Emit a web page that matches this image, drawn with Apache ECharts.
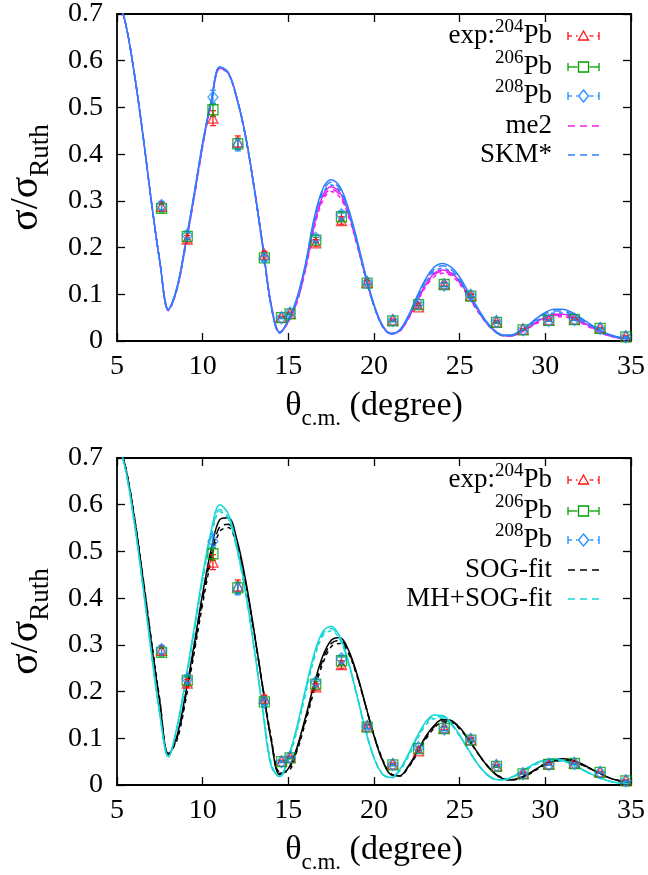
<!DOCTYPE html>
<html>
<head>
<meta charset="utf-8">
<script src="https://cdn.jsdelivr.net/npm/echarts@6/dist/echarts.min.js"></script>
<style>
  html, body { margin: 0; padding: 0; background: #fff; }
  #chart { width: 648px; height: 875px; }
</style>
</head>
<body>
<div id="chart"></div>
<script>
// Scattering angle grid (degrees) used by all calculated curves
const angles = [5,5.5,6,6.5,7,7.5,8,8.5,9,9.5,10,10.5,11,11.5,12,12.5,13,13.5,14,14.5,15,15.5,16,16.5,17,17.5,18,18.5,19,19.5,20,20.5,21,21.5,22,22.5,23,23.5,24,24.5,25,25.5,26,26.5,27,27.5,28,28.5,29,29.5,30,30.5,31,31.5,32,32.5,33,33.5,34,34.5,35];

// Upper panel: SKM* calculations (three isotopes)
const skmA = [0.74,0.68,0.575,0.445,0.30,0.17,0.068,0.115,0.21,0.315,0.425,0.515,0.587,0.574,0.52,0.44,0.33,0.205,0.075,0.018,0.045,0.092,0.165,0.262,0.325,0.345,0.331,0.285,0.218,0.143,0.078,0.033,0.016,0.024,0.054,0.095,0.132,0.158,0.166,0.158,0.137,0.105,0.074,0.045,0.024,0.013,0.013,0.021,0.034,0.049,0.061,0.068,0.068,0.062,0.051,0.039,0.027,0.017,0.011,0.007,0.005];
const skmB = [0.74,0.68,0.575,0.445,0.30,0.17,0.067,0.113,0.208,0.313,0.423,0.514,0.587,0.574,0.519,0.438,0.328,0.203,0.074,0.017,0.045,0.09,0.163,0.258,0.32,0.34,0.326,0.281,0.214,0.14,0.076,0.032,0.015,0.023,0.052,0.092,0.128,0.153,0.161,0.153,0.132,0.101,0.071,0.043,0.023,0.012,0.012,0.02,0.032,0.046,0.058,0.064,0.064,0.058,0.048,0.037,0.025,0.016,0.01,0.006,0.004];
const skmC = [0.74,0.68,0.575,0.445,0.30,0.17,0.066,0.112,0.206,0.311,0.421,0.513,0.586,0.573,0.517,0.436,0.326,0.201,0.073,0.017,0.044,0.089,0.16,0.254,0.315,0.334,0.32,0.276,0.21,0.137,0.074,0.031,0.015,0.022,0.05,0.089,0.124,0.148,0.156,0.148,0.128,0.098,0.069,0.041,0.022,0.012,0.011,0.019,0.03,0.043,0.054,0.06,0.06,0.055,0.045,0.035,0.024,0.015,0.009,0.006,0.004];

// Upper panel: me2 calculations (three isotopes)
const me2A = [0.74,0.68,0.575,0.445,0.30,0.17,0.067,0.112,0.206,0.31,0.42,0.512,0.584,0.574,0.52,0.44,0.331,0.207,0.078,0.019,0.042,0.086,0.157,0.248,0.31,0.33,0.318,0.276,0.212,0.14,0.077,0.033,0.016,0.022,0.049,0.086,0.12,0.144,0.152,0.146,0.128,0.099,0.07,0.043,0.023,0.012,0.011,0.018,0.029,0.041,0.051,0.057,0.057,0.053,0.044,0.034,0.024,0.015,0.009,0.006,0.004];
const me2B = [0.74,0.68,0.575,0.445,0.30,0.17,0.066,0.111,0.204,0.308,0.418,0.511,0.584,0.573,0.519,0.439,0.33,0.206,0.077,0.019,0.041,0.084,0.154,0.244,0.305,0.325,0.313,0.272,0.209,0.138,0.076,0.032,0.016,0.021,0.048,0.084,0.118,0.141,0.149,0.143,0.125,0.097,0.068,0.042,0.022,0.012,0.011,0.018,0.028,0.04,0.049,0.055,0.055,0.051,0.042,0.033,0.023,0.014,0.009,0.005,0.004];
const me2C = [0.74,0.68,0.575,0.445,0.30,0.17,0.065,0.11,0.202,0.306,0.416,0.51,0.583,0.572,0.518,0.438,0.329,0.205,0.076,0.018,0.04,0.082,0.151,0.24,0.3,0.32,0.308,0.268,0.206,0.136,0.075,0.031,0.015,0.021,0.047,0.082,0.115,0.137,0.145,0.14,0.122,0.095,0.066,0.041,0.022,0.011,0.01,0.017,0.027,0.038,0.047,0.052,0.052,0.048,0.04,0.031,0.022,0.014,0.008,0.005,0.003];

// Lower panel: SOG-fit densities
const sogA = [0.74,0.68,0.575,0.445,0.305,0.175,0.065,0.105,0.195,0.3,0.41,0.505,0.568,0.572,0.525,0.44,0.33,0.21,0.095,0.022,0.035,0.08,0.145,0.215,0.275,0.31,0.316,0.29,0.238,0.172,0.105,0.052,0.022,0.02,0.04,0.07,0.103,0.127,0.14,0.138,0.123,0.099,0.072,0.046,0.026,0.014,0.011,0.015,0.024,0.035,0.046,0.053,0.056,0.054,0.047,0.038,0.028,0.019,0.012,0.008,0.005];
const sogB = [0.74,0.68,0.576,0.447,0.308,0.178,0.066,0.1,0.188,0.29,0.398,0.492,0.553,0.558,0.514,0.433,0.327,0.21,0.098,0.025,0.033,0.076,0.14,0.208,0.267,0.303,0.31,0.286,0.236,0.171,0.106,0.053,0.023,0.02,0.039,0.068,0.1,0.124,0.137,0.136,0.121,0.098,0.071,0.046,0.026,0.014,0.011,0.014,0.023,0.034,0.044,0.051,0.054,0.052,0.046,0.037,0.028,0.019,0.012,0.008,0.005];
const sogC = [0.74,0.681,0.578,0.45,0.312,0.182,0.068,0.096,0.18,0.282,0.388,0.482,0.543,0.551,0.51,0.432,0.328,0.213,0.102,0.028,0.03,0.072,0.134,0.201,0.259,0.296,0.303,0.282,0.234,0.171,0.107,0.055,0.024,0.019,0.037,0.066,0.097,0.121,0.134,0.134,0.12,0.098,0.071,0.046,0.027,0.015,0.011,0.014,0.022,0.033,0.043,0.05,0.052,0.051,0.045,0.037,0.028,0.019,0.012,0.008,0.005];

// Lower panel: MH+SOG-fit densities
const mhA = [0.74,0.675,0.565,0.43,0.285,0.15,0.06,0.125,0.225,0.335,0.45,0.545,0.6,0.58,0.51,0.415,0.295,0.16,0.04,0.018,0.06,0.125,0.205,0.28,0.328,0.34,0.318,0.265,0.193,0.118,0.058,0.023,0.016,0.033,0.066,0.103,0.134,0.15,0.149,0.133,0.107,0.077,0.048,0.026,0.013,0.011,0.016,0.026,0.038,0.048,0.054,0.056,0.053,0.046,0.037,0.027,0.018,0.011,0.006,0.004,0.003];
const mhB = [0.74,0.675,0.565,0.43,0.286,0.152,0.06,0.122,0.22,0.33,0.443,0.537,0.59,0.572,0.505,0.412,0.294,0.165,0.042,0.018,0.058,0.12,0.2,0.275,0.323,0.335,0.314,0.262,0.191,0.117,0.058,0.023,0.016,0.032,0.064,0.1,0.131,0.146,0.146,0.13,0.105,0.075,0.047,0.025,0.013,0.011,0.016,0.026,0.037,0.047,0.053,0.055,0.052,0.045,0.036,0.026,0.017,0.011,0.006,0.004,0.003];
const mhC = [0.74,0.675,0.566,0.432,0.288,0.155,0.061,0.12,0.216,0.325,0.437,0.53,0.585,0.57,0.506,0.414,0.297,0.17,0.047,0.017,0.054,0.115,0.194,0.269,0.318,0.33,0.312,0.262,0.193,0.12,0.06,0.024,0.015,0.03,0.06,0.096,0.127,0.142,0.143,0.129,0.105,0.076,0.048,0.026,0.013,0.011,0.015,0.024,0.035,0.045,0.051,0.053,0.051,0.045,0.036,0.026,0.018,0.011,0.006,0.004,0.003];

// Measured angular distributions
const thetaExp = [7.6,9.1,10.6,12.05,13.6,14.6,15.1,16.6,18.1,19.6,21.1,22.6,24.1,25.65,27.15,28.7,30.2,31.7,33.2,34.7];
const pb204 = [0.288,0.218,0.477,0.426,0.186,0.051,0.059,0.21,0.258,0.126,0.045,0.073,0.122,0.097,0.041,0.025,0.045,0.047,0.028,0.010];
const pb204Err = [0.009,0.008,0.016,0.013,0.006,0.002,0.002,0.007,0.008,0.004,0.002,0.003,0.004,0.003,0.002,0.001,0.002,0.002,0.001,0.001];
const pb206 = [0.284,0.224,0.495,0.422,0.178,0.05,0.058,0.216,0.266,0.124,0.043,0.078,0.121,0.096,0.04,0.024,0.044,0.046,0.027,0.009];
const pb206Err = [0.008,0.007,0.014,0.012,0.005,0.002,0.002,0.006,0.008,0.004,0.002,0.003,0.004,0.003,0.002,0.001,0.002,0.002,0.001,0.001];
const pb208 = [0.29,0.227,0.522,0.42,0.177,0.05,0.06,0.22,0.27,0.125,0.044,0.08,0.12,0.098,0.042,0.024,0.044,0.046,0.027,0.009];
const pb208Err = [0.009,0.008,0.015,0.013,0.006,0.002,0.002,0.007,0.008,0.004,0.002,0.003,0.004,0.003,0.002,0.001,0.002,0.002,0.001,0.001];

const FONT = '"Liberation Serif", "Times New Roman", serif';
const C = {
  red: '#ff1010', green: '#00a000', blue208: '#1e8cff',
  me2: '#f020f0', skm: '#2a80ff', sog: '#000000', mh: '#18d6d6'
};

const measureCtx = document.createElement('canvas').getContext('2d');
function textWidth(t, size) {
  measureCtx.font = size + 'px ' + FONT;
  return measureCtx.measureText(t).width;
}
// Lay out a run of text pieces (with super/subscripts) on a common baseline
function textRun(parts, anchorX, baseY, align) {
  const widths = parts.map(p => textWidth(p.t, p.size));
  const total = widths.reduce((a, b) => a + b, 0);
  let x = align === 'right' ? anchorX - total : (align === 'center' ? anchorX - total / 2 : anchorX);
  return parts.map((p, i) => {
    const el = {
      type: 'text', silent: true, x: x, y: baseY + (p.dy || 0) - 0.34 * p.size,
      style: { text: p.t, fontSize: p.size, fontFamily: FONT, fill: '#000', align: 'left', verticalAlign: 'middle' }
    };
    x += widths[i];
    return el;
  });
}

const grids = [
  { left: 117, right: 17, top: 14, height: 327, outerBoundsMode: 'none' },
  { left: 117, right: 17, top: 458, height: 327, outerBoundsMode: 'none' }
];

function axisCommon(showLabel) {
  return {
    axisLine: { show: true, onZero: false, lineStyle: { color: '#000', width: 1.8 } },
    axisTick: { show: true, inside: true, length: 8, lineStyle: { color: '#000', width: 1.3 } },
    axisLabel: { show: showLabel, fontSize: 28, fontFamily: FONT, color: '#000' },
    splitLine: { show: false }
  };
}
const xAxes = [], yAxes = [];
[0, 1].forEach(g => {
  ['bottom', 'top'].forEach(pos => {
    const a = Object.assign({ type: 'value', gridIndex: g, position: pos, min: 5, max: 35, interval: 5 }, axisCommon(pos === 'bottom'));
    a.axisLabel.margin = 12;
    xAxes.push(a);
  });
  ['left', 'right'].forEach(pos => {
    const a = Object.assign({ type: 'value', gridIndex: g, position: pos, min: 0, max: 0.7, interval: 0.1 }, axisCommon(pos === 'left'));
    a.axisLabel.margin = 14;
    yAxes.push(a);
  });
});

function curve(g, values, color, dash, dashOffset) {
  return {
    type: 'line', xAxisIndex: g * 2, yAxisIndex: g * 2,
    data: angles.map((a, i) => [a, values[i]]),
    showSymbol: false, smooth: 0.35, clip: true, silent: true,
    lineStyle: { color: color, width: 1.5, type: dash || 'solid', dashOffset: dashOffset || 0 },
    z: 2
  };
}
function errorBars(g, vals, errs, color) {
  return {
    type: 'custom', xAxisIndex: g * 2, yAxisIndex: g * 2, silent: true, z: 3,
    data: thetaExp.map((t, i) => [t, vals[i], errs[i]]),
    encode: { x: 0, y: 1 },
    renderItem: function (params, api) {
      const x = api.value(0), y = api.value(1), e = api.value(2);
      const lo = api.coord([x, y - e]), hi = api.coord([x, y + e]);
      const w = 3, st = { stroke: color, lineWidth: 1.2 };
      return { type: 'group', children: [
        { type: 'line', shape: { x1: lo[0], y1: lo[1], x2: hi[0], y2: hi[1] }, style: st },
        { type: 'line', shape: { x1: lo[0] - w, y1: lo[1], x2: lo[0] + w, y2: lo[1] }, style: st },
        { type: 'line', shape: { x1: hi[0] - w, y1: hi[1], x2: hi[0] + w, y2: hi[1] }, style: st }
      ] };
    }
  };
}
function points(g, vals, color, symbol, size) {
  return {
    type: 'scatter', xAxisIndex: g * 2, yAxisIndex: g * 2, silent: true, z: 4,
    data: thetaExp.map((t, i) => [t, vals[i]]),
    symbol: symbol, symbolSize: size,
    itemStyle: { color: 'rgba(0,0,0,0)', borderColor: color, borderWidth: 1.3 }
  };
}
function expSeries(g) {
  return [
    errorBars(g, pb204, pb204Err, C.red), points(g, pb204, C.red, 'triangle', 10),
    errorBars(g, pb206, pb206Err, C.green), points(g, pb206, C.green, 'rect', 10),
    errorBars(g, pb208, pb208Err, C.blue208), points(g, pb208, C.blue208, 'diamond', [10, 12])
  ];
}

const series = [].concat(
  expSeries(0),
  [curve(0, me2A, C.me2), curve(0, me2B, C.me2, [8, 5]), curve(0, me2C, C.me2, [4, 4], 3),
   curve(0, skmA, C.skm), curve(0, skmB, C.skm, [8, 5]), curve(0, skmC, C.skm, [4, 4], 3)],
  expSeries(1),
  [curve(1, sogA, C.sog), curve(1, sogB, C.sog, [8, 5]), curve(1, sogC, C.sog, [4, 4], 3),
   curve(1, mhA, C.mh), curve(1, mhB, C.mh, [8, 5]), curve(1, mhC, C.mh, [4, 4], 3)]
);

// ---- key, axis titles ----
const KEY_TEXT_RIGHT = 552, KEY_X1 = 568, KEY_X2 = 599;
const keyRowOffsets = [22, 53, 82, 112, 141];
function keySymbol(kind, cx, cy, color) {
  const st = { stroke: color, fill: 'none', lineWidth: 1.3 };
  if (kind === 'triangle') return { type: 'polygon', silent: true, shape: { points: [[cx, cy - 5], [cx + 5, cy + 4], [cx - 5, cy + 4]] }, style: st };
  if (kind === 'rect') return { type: 'rect', silent: true, shape: { x: cx - 5, y: cy - 5, width: 10, height: 10 }, style: st };
  return { type: 'polygon', silent: true, shape: { points: [[cx, cy - 6], [cx + 5, cy], [cx, cy + 6], [cx - 5, cy]] }, style: st };
}
function keyErrSample(cy, color, kind, dashed) {
  const st = { stroke: color, lineWidth: 1.3, lineDash: dashed ? [4, 4] : null };
  const cx = (KEY_X1 + KEY_X2) / 2;
  return [
    { type: 'line', silent: true, shape: { x1: KEY_X1, y1: cy, x2: cx - 6, y2: cy }, style: st },
    { type: 'line', silent: true, shape: { x1: cx + 6, y1: cy, x2: KEY_X2, y2: cy }, style: st },
    { type: 'line', silent: true, shape: { x1: KEY_X1, y1: cy - 4, x2: KEY_X1, y2: cy + 4 }, style: { stroke: color, lineWidth: 1.3 } },
    { type: 'line', silent: true, shape: { x1: KEY_X2, y1: cy - 4, x2: KEY_X2, y2: cy + 4 }, style: { stroke: color, lineWidth: 1.3 } },
    keySymbol(kind, cx, cy, color)
  ];
}
function keyLineSample(cy, color) {
  return [{ type: 'line', silent: true, shape: { x1: KEY_X1, y1: cy, x2: KEY_X2, y2: cy }, style: { stroke: color, lineWidth: 1.4, lineDash: [7, 5] } }];
}
const SZ = 27, SUP = 19;
function panelKey(top, modelNames, modelColors) {
  const els = [];
  const ys = keyRowOffsets.map(o => top + o);
  const base = y => y + 9;
  els.push(...textRun([{ t: 'exp:', size: SZ }, { t: '204', size: SUP, dy: -12 }, { t: 'Pb', size: SZ }], KEY_TEXT_RIGHT, base(ys[0]), 'right'));
  els.push(...textRun([{ t: '206', size: SUP, dy: -12 }, { t: 'Pb', size: SZ }], KEY_TEXT_RIGHT, base(ys[1]), 'right'));
  els.push(...textRun([{ t: '208', size: SUP, dy: -12 }, { t: 'Pb', size: SZ }], KEY_TEXT_RIGHT, base(ys[2]), 'right'));
  els.push(...textRun([{ t: modelNames[0], size: SZ }], KEY_TEXT_RIGHT, base(ys[3]), 'right'));
  els.push(...textRun([{ t: modelNames[1], size: SZ }], KEY_TEXT_RIGHT, base(ys[4]), 'right'));
  els.push(...keyErrSample(ys[0], C.red, 'triangle', true));
  els.push(...keyErrSample(ys[1], C.green, 'rect', false));
  els.push(...keyErrSample(ys[2], C.blue208, 'diamond', true));
  els.push(...keyLineSample(ys[3], modelColors[0]));
  els.push(...keyLineSample(ys[4], modelColors[1]));
  return els;
}
function axisTitles(top, bottom) {
  const els = [];
  els.push(...textRun([{ t: 'θ', size: 34 }, { t: 'c.m.', size: 23, dy: 9 }, { t: ' (degree)', size: 34 }], 374, bottom + 77, 'center'));
  const T = 40, S = 27;
  els.push({
    type: 'group', silent: true, x: 26, y: (top + bottom) / 2, rotation: Math.PI / 2,
    children: textRun([{ t: 'σ/σ', size: T }, { t: 'Ruth', size: S, dy: 10 }], 0, 0.34 * T, 'center')
  });
  return els;
}

const graphics = [].concat(
  panelKey(14, ['me2', 'SKM*'], [C.me2, C.skm]),
  panelKey(458, ['SOG-fit', 'MH+SOG-fit'], [C.sog, C.mh]),
  axisTitles(14, 341),
  axisTitles(458, 785)
);

const chart = echarts.init(document.getElementById('chart'), null, { renderer: 'canvas' });
chart.setOption({
  animation: false,
  backgroundColor: '#fff',
  grid: grids,
  xAxis: xAxes,
  yAxis: yAxes,
  series: series,
  graphic: { elements: graphics }
});
</script>
</body>
</html>
